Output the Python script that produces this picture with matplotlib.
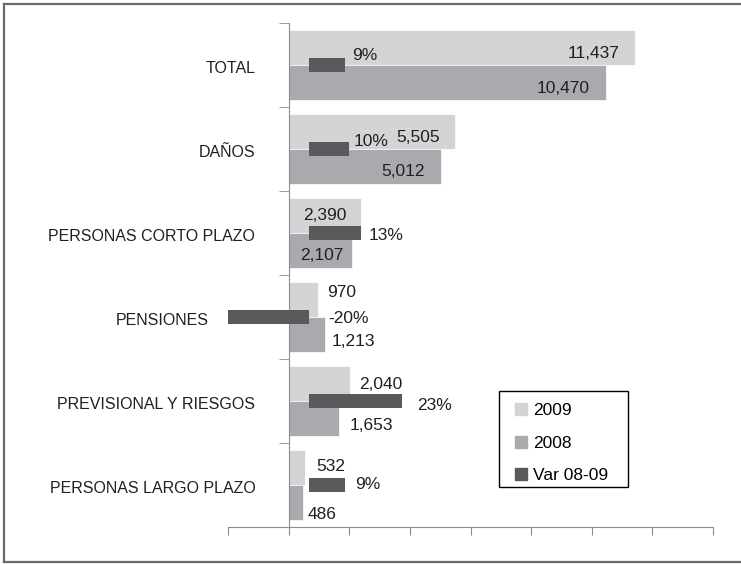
import numpy as np
import matplotlib.pyplot as plt
from matplotlib.patches import Patch, Rectangle
from matplotlib.lines import Line2D
from matplotlib.transforms import ScaledTranslation

plt.rcParams['font.family'] = ['Liberation Sans', 'DejaVu Sans']
fs_cat, fs_num = 11.5, 12.5

# ---------------- datos ----------------
categorias = ['TOTAL', 'DAÑOS', 'PERSONAS CORTO PLAZO', 'PENSIONES',
              'PREVISIONAL Y RIESGOS', 'PERSONAS LARGO PLAZO']
v2009 = [11437, 5505, 2390, 970, 2040, 532]
v2008 = [10470, 5012, 2107, 1213, 1653, 486]
var0809 = [0.09, 0.10, 0.13, -0.20, 0.23, 0.09]

c2009 = '#d3d4d6'
c2008 = '#a9aaad'
cvar = '#58595b'

# posicion de etiquetas (dentro/fuera, dx, dy en pixeles, dy positivo = abajo)
pos2009 = [('in', -16, 4.5), ('in', -16, 4.5), ('in', -15, -1.5),
           ('out', 9, -8.5), ('out', 9, 0), ('out', 12, -2)]
pos2008 = [('in', -16, 4.5), ('in', -16, 3.5), ('in', -9, 3),
           ('out', 6, 5.5), ('out', 11, 5.5), ('out', 4, 10)]
posvar = [(7, -10.5), (4, -9.5), (7, 1.5), (19, 0), (15, 3), (10, -2)]

fig = plt.figure(figsize=(7.41, 5.64), dpi=100)
ax = fig.add_axes([228/741, 37/564, 485/741, 504/564])

y = np.arange(len(categorias))
h = 0.417
ax.barh(y - h/2, v2009, height=h, color=c2009, edgecolor='white', linewidth=0.5, zorder=2)
ax.barh(y + h/2, v2008, height=h, color=c2008, edgecolor='white', linewidth=0.5, zorder=2)
ax.set_xlim(-2000, 14000)
ax.set_ylim(len(categorias) - 0.5, -0.5)

# etiquetas de valores
for i in range(len(categorias)):
    for vals, pos, off in ((v2009, pos2009, -h/2), (v2008, pos2008, h/2)):
        lado, dx, dy = pos[i]
        ax.annotate(f'{vals[i]:,}', (vals[i], y[i] + off), xytext=(dx, -dy),
                    textcoords='offset pixels', ha='right' if lado == 'in' else 'left',
                    va='center_baseline', fontsize=fs_num, color='#231f20', zorder=5)

# ejes
for s in ['top', 'right']:
    ax.spines[s].set_visible(False)
ax.spines['left'].set_position(('data', 0))
ax.spines['left'].set_color('#8c8c8c')
ax.spines['bottom'].set_color('#8c8c8c')
ax.set_xticks(np.arange(-2000, 14001, 2000))
ax.tick_params(axis='x', length=6, color='#8c8c8c', labelbottom=False)
ax.set_yticks(y)
ax.set_yticklabels(categorias, fontsize=fs_cat, color='#231f20')
ax.tick_params(axis='y', which='major', length=0, pad=24)
ax.set_yticks(np.arange(-0.5, len(categorias)), minor=True)
ax.tick_params(axis='y', which='minor', length=7, color='#8c8c8c')
# PENSIONES se corre a la izquierda para no tapar la barra
lbl = ax.get_yticklabels()[3]
lbl.set_transform(lbl.get_transform() + ScaledTranslation(-47/100, 0, fig.dpi_scale_trans))
for lbl in ax.get_yticklabels():
    lbl.set_transform(lbl.get_transform() + ScaledTranslation(0, -2/100, fig.dpi_scale_trans))

# eje secundario para la variacion
ax2 = ax.twiny()
ax2.barh(y, var0809, height=0.167, color=cvar, zorder=3)
ax2.set_xlim(-0.2, 1.0)
ax2.axis('off')
for i in range(len(categorias)):
    dx, dy = posvar[i]
    ax2.annotate(f'{var0809[i]:.0%}', (max(var0809[i], 0), y[i]), xytext=(dx, -dy),
                 textcoords='offset pixels', ha='left', va='center_baseline',
                 fontsize=fs_num, color='#231f20', zorder=5)

# leyenda con recuadro propio
fig.add_artist(Rectangle((499/741, 1 - 487/564), 129/741, 96/564, transform=fig.transFigure,
                         facecolor='white', edgecolor='black', linewidth=1.0, zorder=4))
handles = [Patch(color=c2009), Patch(color=c2008), Patch(color=cvar)]
leg = fig.legend(handles, ['2009', '2008', 'Var 08-09'], loc='upper left',
                 bbox_to_anchor=(515/741, 1 - 403/564), fontsize=fs_num, frameon=False,
                 handlelength=0.7, handleheight=0.7, handletextpad=0.35,
                 labelspacing=1.0, borderpad=0, borderaxespad=0)
leg.set_zorder(5)

# marco
for xs, ys in (([4/741, 1.01], [1 - 4/564, 1 - 4/564]),
               ([4/741, 4/741], [1 - 4/564, 2/564]),
               ([4/741, 1.01], [2/564, 2/564])):
    fig.add_artist(Line2D(xs, ys, transform=fig.transFigure, color='#6a6a6a', linewidth=1.6))

plt.savefig('out.png', dpi=100)
